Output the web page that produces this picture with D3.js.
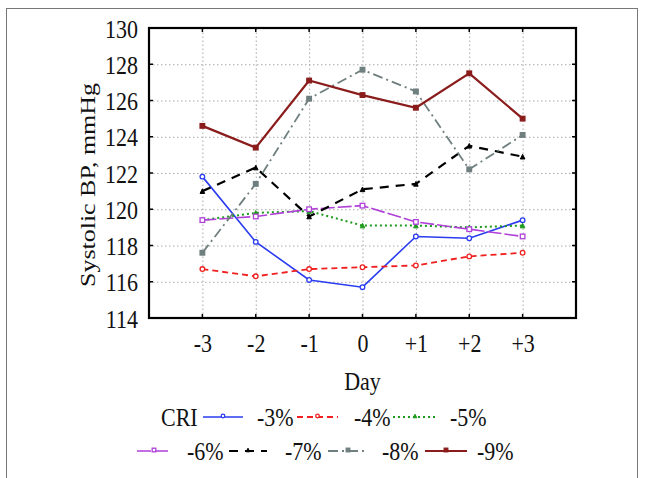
<!DOCTYPE html>
<html>
<head>
<meta charset="utf-8">
<script src="https://cdn.jsdelivr.net/npm/d3@7"></script>
<style>
  body { margin: 0; background: #fff; }
  svg { display: block; font-family: "Liberation Serif", "Times New Roman", serif; }
  .grid line { stroke: #a8a8a8; stroke-dasharray: 1.5 2.5; }
  .grid path { display: none; }
  .lbl text { font-size: 22px; fill: #111; }
  .lbl path { display: none; }
</style>
</head>
<body>
<svg id="chart" width="645" height="478"></svg>
<script>
// data
const days = [-3, -2, -1, 0, 1, 2, 3];
const dayLabels = ["-3", "-2", "-1", "0", "+1", "+2", "+3"];
const yTicks = [114, 116, 118, 120, 122, 124, 126, 128, 130];
const seriesNames = ["-3%", "-4%", "-5%", "-6%", "-7%", "-8%", "-9%"];
const s3 = [121.8, 118.2, 116.1, 115.7, 118.5, 118.4, 119.4];
const s4 = [116.7, 116.3, 116.7, 116.8, 116.9, 117.4, 117.6];
const s5 = [119.4, 119.8, 119.9, 119.1, 119.1, 119.0, 119.1];
const s6 = [119.4, 119.6, 120.0, 120.2, 119.3, 118.9, 118.5];
const s7 = [121.0, 122.3, 119.6, 121.1, 121.4, 123.5, 122.9];
const s8 = [117.6, 121.4, 126.1, 127.7, 126.5, 122.2, 124.1];
const s9 = [124.6, 123.4, 127.1, 126.3, 125.6, 127.5, 125.0];
const allSeries = [s3, s4, s5, s6, s7, s8, s9];

// styles for each series
const styles = [
  { color: "#2a3cf0", dash: null, width: 1.6, marker: "circle", fill: "#fff" },
  { color: "#f02020", dash: "6 4", width: 1.8, marker: "circle", fill: "#fff" },
  { color: "#1e9a1e", dash: "2 3", width: 2, marker: "triangle", fill: "#1e9a1e" },
  { color: "#b040d8", dash: "14 3", width: 1.6, marker: "square", fill: "#fff" },
  { color: "#000", dash: "9 7", width: 2.2, marker: "triangle", fill: "#000" },
  { color: "#6f7f7f", dash: "10 4 2 4", width: 1.8, marker: "square", fill: "#6f7f7f" },
  { color: "#8a1c1c", dash: null, width: 2.2, marker: "square", fill: "#8a1c1c" }
];

const serif = '"Liberation Serif", "Times New Roman", serif';
const stretch = 1.18; // the source text is a bit taller than wide

const svg = d3.select("#chart");
const pLeft = 149, pRight = 576, pTop = 28, pBottom = 318;

const x = d3.scaleLinear().domain([-4, 4]).range([pLeft, pRight]);
const y = d3.scaleLinear().domain([114, 130]).range([pBottom, pTop]);

// text helper: a stretched label placed at (tx, ty); rotated text stretches along its length
const label = (g, tx, ty, str, anchor, rot) => {
  const tf = rot
    ? `translate(${tx},${ty}) rotate(${rot}) scale(${stretch},1)`
    : `translate(${tx},${ty}) scale(1,${stretch})`;
  g.append("g")
    .attr("transform", tf)
    .append("text")
      .attr("dy", "0.35em")
      .attr("text-anchor", anchor || "start")
      .attr("font-size", 22)
      .attr("fill", "#111")
      .text(str);
};

// outer picture frame
svg.append("rect")
  .attr("x", 6.5).attr("y", 8.5).attr("width", 631).attr("height", 480)
  .attr("fill", "none").attr("stroke", "#777").attr("stroke-width", 1);

// grid
svg.append("g").attr("class", "grid")
  .attr("transform", `translate(${pLeft},0)`)
  .call(d3.axisLeft(y).tickValues(yTicks.slice(1, -1)).tickSize(-(pRight - pLeft)).tickFormat(""));
svg.append("g").attr("class", "grid")
  .attr("transform", `translate(0,${pBottom})`)
  .call(d3.axisBottom(x).tickValues(days).tickSize(-(pBottom - pTop)).tickFormat(""));

// little inner ticks on the frame
const tk = svg.append("g").attr("stroke", "#000").attr("stroke-width", 1.5);
yTicks.slice(1, -1).forEach(v => {
  tk.append("line").attr("x1", pLeft).attr("x2", pLeft + 4).attr("y1", y(v)).attr("y2", y(v));
  tk.append("line").attr("x1", pRight).attr("x2", pRight - 4).attr("y1", y(v)).attr("y2", y(v));
});
days.forEach(v => {
  tk.append("line").attr("x1", x(v)).attr("x2", x(v)).attr("y1", pBottom).attr("y2", pBottom - 4);
  tk.append("line").attr("x1", x(v)).attr("x2", x(v)).attr("y1", pTop).attr("y2", pTop + 4);
});

// tick labels
const yl = svg.append("g").attr("class", "lbl")
  .attr("transform", `translate(${pLeft},0)`)
  .call(d3.axisLeft(y).tickValues(yTicks).tickSize(0).tickPadding(11));
const xl = svg.append("g").attr("class", "lbl")
  .attr("transform", `translate(0,${pBottom})`)
  .call(d3.axisBottom(x).tickValues(days).tickSize(0).tickPadding(0)
    .tickFormat((d, i) => dayLabels[i]));
yl.attr("font-family", serif).attr("font-size", 22);
xl.attr("font-family", serif).attr("font-size", 22);
yl.selectAll("text").attr("dy", "0.35em").attr("transform", `scale(1,${stretch})`);
xl.selectAll("text").attr("y", 0).attr("dy", "0.35em")
  .attr("transform", `translate(0,25) scale(1,${stretch})`);

// axis titles
label(svg, x(0), 381, "Day", "middle");
label(svg, 87, 185, "Systolic BP, mmHg", "middle", -90);

// markers
const drawMarker = (g, type, cx, cy, st, size) => {
  if (type === "circle") {
    g.append("circle").attr("cx", cx).attr("cy", cy).attr("r", size)
      .attr("fill", st.fill).attr("stroke", st.color).attr("stroke-width", 1.3);
  } else if (type === "square") {
    g.append("rect").attr("x", cx - size).attr("y", cy - size)
      .attr("width", size * 2).attr("height", size * 2)
      .attr("fill", st.fill).attr("stroke", st.color).attr("stroke-width", 1.3);
  } else {
    g.append("path")
      .attr("d", `M${cx - size},${cy + size}L${cx},${cy - size}L${cx + size},${cy + size}Z`)
      .attr("fill", st.fill).attr("stroke", st.color).attr("stroke-width", 1);
  }
};

const line = d3.line().x((d, i) => x(days[i])).y(d => y(d));

allSeries.forEach((vals, k) => {
  const st = styles[k];
  const g = svg.append("g");
  g.append("path")
    .attr("d", line(vals))
    .attr("fill", "none")
    .attr("stroke", st.color)
    .attr("stroke-width", st.width)
    .attr("stroke-dasharray", st.dash);
  vals.forEach((v, i) => drawMarker(g, st.marker, x(days[i]), y(v), st, 2.3));
});

// plot frame
svg.append("rect")
  .attr("x", pLeft).attr("y", pTop).attr("width", pRight - pLeft).attr("height", pBottom - pTop)
  .attr("fill", "none").attr("stroke", "#000").attr("stroke-width", 2.2);

// legend
const legendItems = [
  { x1: 203, x2: 243, tx: 257, ty: 417 },
  { x1: 297, x2: 338, tx: 354, ty: 417 },
  { x1: 393, x2: 437, tx: 450, ty: 417 },
  { x1: 137, x2: 171, tx: 187, ty: 451 },
  { x1: 229, x2: 267, tx: 285, ty: 451 },
  { x1: 328, x2: 368, tx: 382, ty: 451 },
  { x1: 425, x2: 467, tx: 477, ty: 451 }
];
const lg = svg.append("g");
label(lg, 161, 417, "CRI");
legendItems.forEach((it, k) => {
  const st = styles[k];
  lg.append("line")
    .attr("x1", it.x1).attr("x2", it.x2).attr("y1", it.ty).attr("y2", it.ty)
    .attr("stroke", st.color).attr("stroke-width", st.width)
    .attr("stroke-dasharray", st.dash);
  drawMarker(lg, st.marker, (it.x1 + it.x2) / 2, it.ty - 1, st, 1.8);
  label(lg, it.tx, it.ty, seriesNames[k]);
});
</script>
</body>
</html>
